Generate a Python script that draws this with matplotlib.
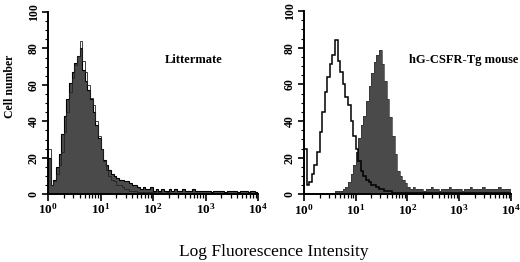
import numpy as np
import matplotlib
matplotlib.use("Agg")
import matplotlib.pyplot as plt
from matplotlib.ticker import FixedLocator, MultipleLocator, LogFormatterMathtext

# channel bins: 0.05-decade steps from 10^0 to 10^4
decade_step = 0.05
x_decades = (0, 4)

littermate_fill = [20, 5, 8, 15, 22, 33, 43, 52, 61, 67,
                   72, 76, 80, 68, 62, 57, 52, 45, 38, 31,
                   25, 19, 16, 13, 11, 10, 9, 8, 8, 7,
                   7, 6, 5, 5, 4, 3, 4, 3, 3, 4,
                   2, 3, 2, 3, 2, 2, 3, 2, 3, 2,
                   2, 3, 2, 2, 2, 3, 2, 2, 2, 2,
                   2, 2, 1, 2, 2, 2, 2, 1, 2, 2,
                   2, 2, 1, 2, 2, 2, 1, 2, 2, 1]

control_line = [25, 5, 7, 11, 16, 23, 34, 45, 56, 64,
                71, 76, 84, 73, 67, 60, 53, 49, 40, 32,
                25, 18, 13, 10, 8, 7, 5, 5, 4, 3,
                3, 2, 2, 2, 1, 1, 1, 1, 1, 1,
                1, 0.5, 1, 0.5, 0.5, 1, 0.5, 0.5, 0.5, 0.5,
                0.5, 0.5, 0.5, 0.5, 0.5, 0.5, 0.5, 0.5, 0.5, 0.5,
                0.5, 0.5, 0.5, 0.5, 0.5, 0.5, 0.5, 0.5, 0.5, 0.5,
                0.5, 0.5, 0.5, 0.5, 0.5, 0.5, 0.5, 0.5, 0.5, 0.5]

tg_fill = [0, 1, 0, 1, 1, 0, 1, 1, 1, 1,
           1, 1, 2, 2, 2, 3, 4, 7, 11, 16,
           23, 31, 38, 43, 51, 59, 66, 72, 76, 79,
           71, 62, 52, 42, 32, 22, 13, 10, 8, 6,
           4, 3, 4, 3, 3, 3, 2, 3, 3, 4,
           3, 3, 2, 3, 3, 3, 4, 3, 3, 3,
           3, 2, 3, 3, 4, 3, 3, 3, 3, 4,
           3, 3, 3, 3, 3, 4, 3, 3, 3, 3]

panel_labels = ["Littermate", "hG-CSFR-Tg mouse"]
y_ticks = [0, 20, 40, 60, 80, 100]
x_major = [1, 10, 100, 1000, 10000]

edges = 10 ** np.arange(x_decades[0], x_decades[1] + decade_step / 2, decade_step)

plt.rcParams['font.family'] = ['Liberation Serif', 'DejaVu Serif']
plt.rcParams['font.weight'] = 'bold'
plt.rcParams['mathtext.fontset'] = 'custom'
plt.rcParams['mathtext.rm'] = 'Liberation Serif:bold'
plt.rcParams['mathtext.it'] = 'Liberation Serif:bold'
plt.rcParams['mathtext.bf'] = 'Liberation Serif:bold'

fig = plt.figure(figsize=(5.2, 2.62), dpi=100)
ax1 = fig.add_axes([0.0923, 0.259, 0.404, 0.695])
ax2 = fig.add_axes([0.5846, 0.258, 0.398, 0.700])

fill_color = '#4a4a4a'

ax1.stairs(littermate_fill, edges, fill=True, color=fill_color, lw=0)
ax1.stairs(littermate_fill, edges, color='black', lw=0.8)
ax1.stairs(control_line, edges, color='#222222', lw=0.6)

ax2.stairs(tg_fill, edges, fill=True, color=fill_color, lw=0)
ax2.stairs(tg_fill, edges, color='#333333', lw=0.5)
ax2.stairs(control_line, edges, color='black', lw=1.1)

for ax in [ax1, ax2]:
    ax.set_xscale('log')
    ax.set_xlim(1, 1e4)
    ax.set_ylim(0, 100)
    for s in ['top', 'right']:
        ax.spines[s].set_visible(False)
    for s in ['left', 'bottom']:
        ax.spines[s].set_linewidth(1.4)
    ax.xaxis.set_major_locator(FixedLocator(x_major))
    ax.xaxis.set_major_formatter(LogFormatterMathtext())
    ax.xaxis.set_minor_locator(FixedLocator(
        [m * 10 ** d for d in range(4) for m in range(2, 10)]))
    ax.set_yticks(y_ticks)
    ax.yaxis.set_minor_locator(MultipleLocator(5))
    ax.tick_params(axis='x', which='major', length=5, width=1.2, labelsize=9.5, pad=1)
    ax.tick_params(axis='x', which='minor', length=3, width=0.9)
    ax.tick_params(axis='y', which='major', length=4, width=1.2, labelsize=8.5, pad=2)
    ax.tick_params(axis='y', which='minor', length=2, width=0.8)
    for t in ax.get_yticklabels():
        t.set_rotation(90)
        t.set_va('center')

fig.text(0.373, 0.771, panel_labels[0], ha='center', va='center',
         fontsize=9, fontweight='bold')
fig.text(0.996, 0.771, panel_labels[1], ha='right', va='center',
         fontsize=9, fontweight='bold')

fig.text(0.02, 0.67, 'Cell number', rotation=90, ha='center', va='center',
         fontsize=8.5, fontweight='bold')
fig.text(0.527, 0.04, 'Log Fluorescence Intensity', ha='center', va='center',
         fontsize=12.5, fontweight='normal')

fig.savefig('out.png', dpi=100)
